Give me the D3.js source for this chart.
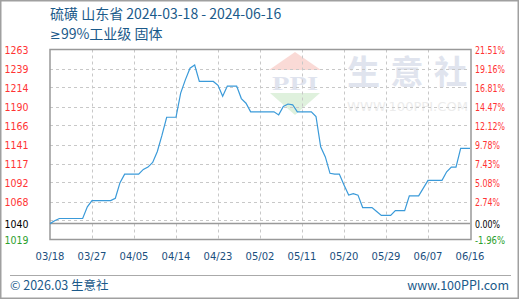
<!DOCTYPE html>
<html>
<head>
<meta charset="utf-8">
<script src="https://cdn.jsdelivr.net/npm/d3@7"></script>
<style>
  html, body { margin: 0; padding: 0; background: #fff; }
  svg { display: block; }
</style>
</head>
<body>
<div id="chart"></div>
<script>
// daily prices, 2024-03-18 .. 2024-06-16 (yuan/ton)
const startDate = '2024-03-18';
const prices = [
  1039.4, 1043, 1046, 1046, 1046, 1046, 1046, 1046, 1061, 1069,
  1069, 1069, 1069, 1069, 1072, 1092, 1103, 1103, 1103, 1103,
  1109, 1112, 1118, 1132, 1153, 1176, 1176, 1176, 1207, 1224,
  1239, 1243, 1222, 1222, 1222, 1222, 1217, 1203, 1216, 1216,
  1216, 1200, 1194, 1183, 1183, 1183, 1183, 1183, 1183, 1179,
  1190, 1193, 1192, 1183, 1183, 1183, 1183, 1177, 1138, 1125,
  1104, 1103, 1103, 1089, 1076, 1078, 1076, 1060, 1060, 1060,
  1055, 1050, 1050, 1050, 1056, 1056, 1056, 1075, 1075, 1075,
  1085, 1095, 1095, 1095, 1095, 1106, 1112, 1112, 1136, 1136,
  1136
];
const basePrice = 1039.4;
const yMin = 1019, yMax = 1263;
const yTickLabels = ['1019', '1040', '1068', '1092', '1117', '1141', '1166', '1190', '1214', '1239', '1263'];
const pctTickLabels = ['-1.96%', '0.00%', '2.74%', '5.08%', '7.43%', '9.78%', '12.12%', '14.47%', '16.81%', '19.16%', '21.51%'];
const xTickLabels = ['03/18', '03/27', '04/05', '04/14', '04/23', '05/02', '05/11', '05/20', '05/29', '06/07', '06/16'];
const titleLine1 = '硫磺 山东省 2024-03-18 - 2024-06-16';
const titleLine2 = '99%工业级 固体';

const W = 520, H = 300;
const margin = {left: 50, right: 470, top: 49.5, bottom: 239.5};

const parse = d3.timeParse('%Y-%m-%d');
const t0 = parse(startDate);
const data = prices.map((v, i) => ({date: d3.timeDay.offset(t0, i), value: v}));

const svg = d3.select('#chart').append('svg')
  .attr('width', W).attr('height', H);

// outer frame
svg.append('rect')
  .attr('x', 0.75).attr('y', 0.75).attr('width', W - 2.5).attr('height', H - 2.5)
  .attr('fill', '#fff').attr('stroke', '#a0a0a0').attr('stroke-width', 1.5);

// title
const title = svg.append('g')
  .attr('font-family', '"Noto Sans CJK SC", "Noto Sans", sans-serif')
  .attr('font-size', 14).attr('fill', '#1b5a8a');
title.append('text').attr('x', 50).attr('y', 19).text(titleLine1);
const t2 = title.append('text').attr('x', 50).attr('y', 39);
t2.append('tspan').attr('font-family', '"DejaVu Sans", sans-serif').attr('font-size', 13).text('≥');
t2.append('tspan').text(titleLine2);

const x = d3.scaleTime()
  .domain([t0, d3.timeDay.offset(t0, prices.length - 1)])
  .range([margin.left, margin.right]);

const y = d3.scaleLinear().domain([yMin, yMax]).range([margin.bottom, margin.top]);

const step = (yMax - yMin) / 10;
const yTicks = d3.range(11).map(k => yMin + k * step);
const xTicks = xTickLabels.map((_, k) => d3.timeDay.offset(t0, k * 9));

// watermark
const wm = svg.append('g');
wm.append('path')
  .attr('d', `M295,52 L321,70 L269,70 Z`)
  .attr('fill', '#f9d6d2').attr('opacity', 0.9);
wm.append('text')
  .attr('x', 295).attr('y', 90).attr('text-anchor', 'middle')
  .attr('font-family', '"Liberation Serif", serif').attr('font-weight', 'bold')
  .attr('font-size', 19).attr('fill', '#dfe3ee').attr('textLength', 46)
  .attr('lengthAdjust', 'spacingAndGlyphs')
  .text('PPI');
wm.append('path')
  .attr('d', `M270,93 L320,93 L295,115 Z`)
  .attr('fill', '#dcefd9').attr('opacity', 0.9);
wm.append('text')
  .attr('x', 347).attr('y', 84)
  .attr('font-family', '"Noto Sans CJK SC", sans-serif').attr('font-weight', 'bold')
  .attr('font-size', 33).attr('fill', '#e0e4ee')
  .attr('textLength', 120).attr('lengthAdjust', 'spacing')
  .text('生意社');
wm.append('text')
  .attr('x', 347).attr('y', 111)
  .attr('font-family', '"DejaVu Sans", sans-serif')
  .attr('font-size', 13).attr('fill', '#ececec')
  .attr('textLength', 121).attr('lengthAdjust', 'spacingAndGlyphs')
  .text('WWW.100PPI.COM');

// gridlines
const grid = svg.append('g')
  .attr('stroke', '#c8c8c8').attr('stroke-width', 1).attr('stroke-dasharray', '3,3');
grid.selectAll('line.h')
  .data(yTicks.slice(1, -1))
  .join('line')
  .attr('class', 'h')
  .attr('x1', margin.left).attr('x2', margin.right)
  .attr('y1', d => Math.round(y(d)) + 0.5).attr('y2', d => Math.round(y(d)) + 0.5);
grid.selectAll('line.v')
  .data(xTicks.slice(1, -1))
  .join('line')
  .attr('class', 'v')
  .attr('x1', d => Math.round(x(d)) + 0.5).attr('x2', d => Math.round(x(d)) + 0.5)
  .attr('y1', margin.top).attr('y2', margin.bottom);

// plot box
svg.append('rect')
  .attr('x', margin.left).attr('y', margin.top)
  .attr('width', margin.right - margin.left + 1).attr('height', margin.bottom - margin.top)
  .attr('fill', 'none').attr('stroke', '#999').attr('stroke-width', 1.5);

// base line
svg.append('line')
  .attr('x1', margin.left).attr('x2', margin.right)
  .attr('y1', y(basePrice)).attr('y2', y(basePrice))
  .attr('stroke', '#999').attr('stroke-width', 1.5);

// price line
const line = d3.line().x(d => x(d.date)).y(d => y(d.value));
svg.append('path')
  .datum(data)
  .attr('fill', 'none')
  .attr('stroke', '#3a9ad9')
  .attr('stroke-width', 1.2)
  .attr('d', line);

// y labels
const labelPos = yTicks.map((v, k) => k === 1 ? basePrice : v);
const labelColor = k => k === 0 ? '#2ca02c' : k === 1 ? '#000' : '#ff3333';

const yl = svg.append('g')
  .attr('font-family', '"DejaVu Sans", sans-serif').attr('font-size', 10.5);
yl.selectAll('text.l')
  .data(yTickLabels)
  .join('text')
  .attr('class', 'l')
  .attr('x', 4.5)
  .attr('y', (d, k) => y(labelPos[k]) + 4)
  .attr('fill', (d, k) => labelColor(k))
  .attr('textLength', 24).attr('lengthAdjust', 'spacingAndGlyphs')
  .text(d => d);
yl.selectAll('text.r')
  .data(pctTickLabels)
  .join('text')
  .attr('class', 'r')
  .attr('x', 475)
  .attr('y', (d, k) => y(labelPos[k]) + 4)
  .attr('fill', (d, k) => labelColor(k))
  .attr('textLength', d => d.length * 5)
  .attr('lengthAdjust', 'spacingAndGlyphs')
  .text(d => d);

// x labels
svg.append('g')
  .attr('font-family', '"DejaVu Sans", sans-serif').attr('font-size', 10)
  .attr('fill', '#1b4f7e')
  .selectAll('text')
  .data(xTicks)
  .join('text')
  .attr('x', d => x(d))
  .attr('y', 260)
  .attr('text-anchor', 'middle')
  .text((d, k) => xTickLabels[k]);

// footer
svg.append('line')
  .attr('x1', 10).attr('x2', 511).attr('y1', 275.5).attr('y2', 275.5)
  .attr('stroke', '#aaa').attr('stroke-width', 1);
const foot = svg.append('g')
  .attr('font-family', '"Noto Sans CJK SC", "Noto Sans", sans-serif')
  .attr('font-size', 12.5).attr('fill', '#1b5a8a');
foot.append('text').attr('x', 10).attr('y', 290).text('© 2026.03 生意社');
foot.append('text').attr('x', 509).attr('y', 290).attr('text-anchor', 'end').text('www.100PPI.com');
</script>
</body>
</html>
